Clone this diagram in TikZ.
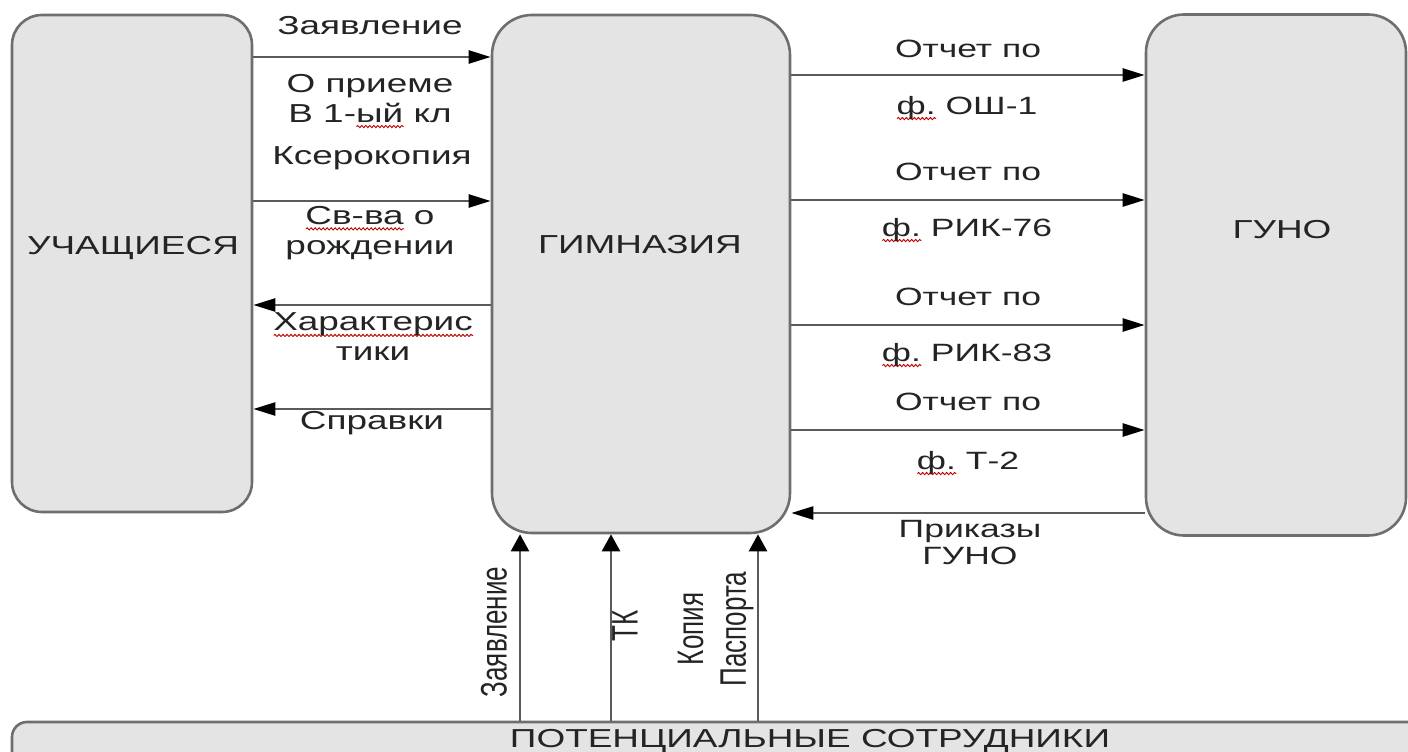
\documentclass[tikz,border=0pt]{standalone}
\usepackage{fontspec}
\setmainfont[FakeStretch=1.42]{Liberation Sans}
\newfontfamily\plainfont{Liberation Sans}
\usetikzlibrary{arrows.meta,decorations.pathmorphing}
\definecolor{boxfill}{HTML}{E4E4E4}
\definecolor{boxline}{HTML}{6E6E6E}
\definecolor{linecol}{HTML}{5A5A5A}
\definecolor{txt}{HTML}{242424}
\newcommand{\sqw}[1]{\setbox0=\hbox{#1}\rlap{\tikz[baseline=0pt]\draw[red!75!black,line width=0.9pt,decorate,decoration={snake,amplitude=1.1pt,segment length=4pt}] (0pt,-4.5pt) -- (\the\wd0,-4.5pt);}\box0\relax}
\newcommand{\vtxt}[1]{\scalebox{1}[1.42]{\plainfont\begin{tabular}{@{}c@{}}#1\end{tabular}}}
\begin{document}
\begin{tikzpicture}[x=1pt,y=-1pt,
  box/.style={draw=boxline,fill=boxfill,line width=2.6pt,rounded corners=#1,inner sep=0pt},
  lbl/.style={font=\fontsize{26}{30}\selectfont,text=txt,align=center,inner sep=0pt},
  rlbl/.style={font=\fontsize{25}{28}\selectfont,text=txt,align=center,inner sep=0pt},
  vlbl/.style={rotate=90,font=\fontsize{26}{30}\selectfont,text=txt,inner sep=0pt},
  flow/.style={draw=linecol,line width=2.4pt,-{Triangle[length=22pt,width=13pt,color=black]}},
  vflow/.style={draw=linecol,line width=2.4pt,-{Triangle[length=17pt,width=18pt,color=black]}}]
\useasboundingbox (0,0) rectangle (1408,752);
\clip (0,0) rectangle (1408,752);
% boxes
\node[box=30pt,minimum width=240pt,minimum height=497pt] (uch) at (132,263.5) {};
\node[box=40pt,minimum width=298pt,minimum height=518pt] (gym) at (641,274) {};
\node[box=38pt,minimum width=260pt,minimum height=521pt] (guno) at (1276,275) {};
\node[box=15pt,minimum width=1428pt,minimum height=68pt] (pot) at (726,756) {};
\node[lbl] (uchT) at (133,248) {УЧАЩИЕСЯ};
\node[lbl] (gymT) at (640,245) {ГИМНАЗИЯ};
\node[lbl] (gunoT) at (1282,230) {ГУНО};
\node[lbl] (potT) at (810,741) {ПОТЕНЦИАЛЬНЫЕ СОТРУДНИКИ};
% left flows
\draw[flow] (uch.east |- 0,57) -- (gym.west |- 0,57);
\draw[flow] (uch.east |- 0,201) -- (gym.west |- 0,201);
\draw[flow] (gym.west |- 0,305) -- (uch.east |- 0,305);
\draw[flow] (gym.west |- 0,409) -- (uch.east |- 0,409);
\node[lbl] (l1) at (370,26) {Заявление};
\node[lbl] (l2) at (370,101) {О приеме\\В 1-\sqw{ый} кл};
\node[lbl] (l3) at (372,158) {Ксерокопия};
\node[lbl] (l4) at (370,233) {\sqw{Св-ва} о\\рождении};
\node[lbl] (l5) at (373,337) {\sqw{Характерис}\\тики};
\node[lbl] (l6) at (372,423) {Справки};
% right flows
\draw[flow] (gym.east |- 0,75) -- (guno.west |- 0,75);
\draw[flow] (gym.east |- 0,200) -- (guno.west |- 0,200);
\draw[flow] (gym.east |- 0,325) -- (guno.west |- 0,325);
\draw[flow] (gym.east |- 0,430) -- (guno.west |- 0,430);
\draw[flow] (guno.west |- 0,513) -- (gym.east |- 0,513);
\node[rlbl] (r1) at (968,49) {Отчет по};
\node[rlbl] (r2) at (967,108) {\sqw{ф.} ОШ-1};
\node[rlbl] (r3) at (968,172) {Отчет по};
\node[rlbl] (r4) at (967,230) {\sqw{ф.} РИК-76};
\node[rlbl] (r5) at (968,297) {Отчет по};
\node[rlbl] (r6) at (967,355) {\sqw{ф.} РИК-83};
\node[rlbl] (r7) at (968,402) {Отчет по};
\node[rlbl] (r8) at (968,463) {\sqw{ф.} Т-2};
\node[rlbl,font=\fontsize{25}{27}\selectfont] (r9) at (970,543) {Приказы\\ГУНО};
% bottom flows
\draw[vflow] (pot.north -| 520,0) -- (gym.south -| 520,0);
\draw[vflow] (pot.north -| 611,0) -- (gym.south -| 611,0);
\draw[vflow] (pot.north -| 758,0) -- (gym.south -| 758,0);
\node[vlbl] (v1) at (498,632) {\vtxt{Заявление}};
\node[vlbl] (v2) at (629,626) {\vtxt{ТК}};
\node[vlbl] (v3) at (716,629) {\vtxt{Копия\\Паспорта}};
\end{tikzpicture}
\end{document}
